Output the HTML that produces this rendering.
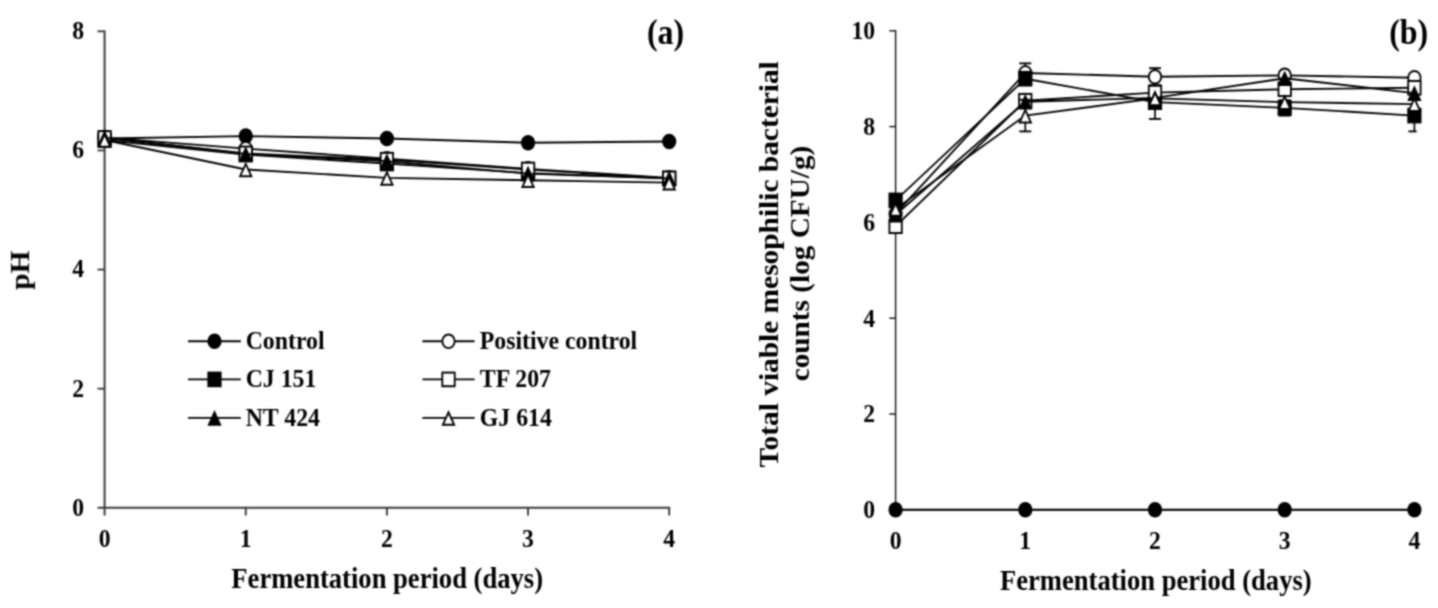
<!DOCTYPE html>
<html lang="en">
<head>
<meta charset="utf-8">
<title>Fermentation charts</title>
<style>
html,body{margin:0;padding:0;background:#fff;}
body{width:1438px;height:608px;overflow:hidden;}
svg{display:block;}
svg text{font-family:"Liberation Serif",serif;font-weight:bold;fill:#000;}
</style>
</head>
<body>
<svg width="1438" height="608" viewBox="0 0 1438 608">
<rect width="1438" height="608" fill="#fff"/>
<defs><filter id="soft" color-interpolation-filters="sRGB" x="0" y="0" width="1438" height="608" filterUnits="userSpaceOnUse"><feConvolveMatrix order="5" kernelMatrix="0.00037 0.00430 0.00978 0.00430 0.00037 0.00430 0.05062 0.11515 0.05062 0.00430 0.00978 0.11515 0.26192 0.11515 0.00978 0.00430 0.05062 0.11515 0.05062 0.00430 0.00037 0.00430 0.00978 0.00430 0.00037" divisor="1" edgeMode="duplicate" preserveAlpha="false"/></filter></defs>
<g filter="url(#soft)"><g transform="scale(1 1.1)">
<line x1="104.6" y1="27.82" x2="104.6" y2="468.64" stroke="#3a3a3a" stroke-width="2.0" stroke-linecap="butt"/>
<line x1="97.5" y1="461.64" x2="670.1" y2="461.64" stroke="#3a3a3a" stroke-width="1.8" stroke-linecap="butt"/>
<line x1="97.5" y1="353.35" x2="104.6" y2="353.35" stroke="#3a3a3a" stroke-width="1.7" stroke-linecap="butt"/>
<line x1="97.5" y1="245.05" x2="104.6" y2="245.05" stroke="#3a3a3a" stroke-width="1.7" stroke-linecap="butt"/>
<line x1="97.5" y1="136.76" x2="104.6" y2="136.76" stroke="#3a3a3a" stroke-width="1.7" stroke-linecap="butt"/>
<line x1="97.5" y1="28.47" x2="104.6" y2="28.47" stroke="#3a3a3a" stroke-width="1.7" stroke-linecap="butt"/>
<line x1="245.75" y1="461.64" x2="245.75" y2="468.64" stroke="#3a3a3a" stroke-width="1.9" stroke-linecap="butt"/>
<line x1="386.9" y1="461.64" x2="386.9" y2="468.64" stroke="#3a3a3a" stroke-width="1.9" stroke-linecap="butt"/>
<line x1="528.05" y1="461.64" x2="528.05" y2="468.64" stroke="#3a3a3a" stroke-width="1.9" stroke-linecap="butt"/>
<line x1="669.2" y1="461.64" x2="669.2" y2="468.64" stroke="#3a3a3a" stroke-width="1.9" stroke-linecap="butt"/>
<text x="84" y="469.27" font-size="23.7" text-anchor="end">0</text>
<text x="84" y="360.73" font-size="23.7" text-anchor="end">2</text>
<text x="84" y="252.18" font-size="23.7" text-anchor="end">4</text>
<text x="84" y="143.64" font-size="23.7" text-anchor="end">6</text>
<text x="84" y="35.09" font-size="23.7" text-anchor="end">8</text>
<text x="104.6" y="497.36" font-size="23.7" text-anchor="middle">0</text>
<text x="245.75" y="497.36" font-size="23.7" text-anchor="middle">1</text>
<text x="386.9" y="497.36" font-size="23.7" text-anchor="middle">2</text>
<text x="528.05" y="497.36" font-size="23.7" text-anchor="middle">3</text>
<text x="669.2" y="497.36" font-size="23.7" text-anchor="middle">4</text>
<text x="387.2" y="534.73" font-size="26.6" text-anchor="middle">Fermentation period (days)</text>
<text transform="translate(29 245.73) rotate(-90)" font-size="26.6" text-anchor="middle">pH</text>
<text x="665.6" y="39.64" font-size="32" text-anchor="middle">(a)</text>
<polyline points="104.6,125.93 245.75,123.77 386.9,125.93 528.05,129.72 669.2,128.64" fill="none" stroke="#000" stroke-width="1.7" stroke-linejoin="round"/>
<circle cx="104.6" cy="125.93" r="7.1" fill="#000"/>
<circle cx="245.75" cy="123.77" r="7.1" fill="#000"/>
<circle cx="386.9" cy="125.93" r="7.1" fill="#000"/>
<circle cx="528.05" cy="129.72" r="7.1" fill="#000"/>
<circle cx="669.2" cy="128.64" r="7.1" fill="#000"/>
<polyline points="104.6,125.12 245.75,135.14 386.9,144.34 528.05,153.55 669.2,161.67" fill="none" stroke="#000" stroke-width="1.7" stroke-linejoin="round"/>
<circle cx="104.6" cy="125.12" r="6.2" fill="#fff" stroke="#000" stroke-width="1.8"/>
<circle cx="245.75" cy="135.14" r="6.2" fill="#fff" stroke="#000" stroke-width="1.8"/>
<circle cx="386.9" cy="144.34" r="6.2" fill="#fff" stroke="#000" stroke-width="1.8"/>
<circle cx="528.05" cy="153.55" r="6.2" fill="#fff" stroke="#000" stroke-width="1.8"/>
<circle cx="669.2" cy="161.67" r="6.2" fill="#fff" stroke="#000" stroke-width="1.8"/>
<polyline points="104.6,127.29 245.75,140.55 386.9,148.68 528.05,157.34 669.2,162.21" fill="none" stroke="#000" stroke-width="1.7" stroke-linejoin="round"/>
<rect x="97.5" y="120.19" width="14.2" height="14.2" fill="#000"/>
<rect x="238.65" y="133.45" width="14.2" height="14.2" fill="#000"/>
<rect x="379.8" y="141.58" width="14.2" height="14.2" fill="#000"/>
<rect x="520.95" y="150.24" width="14.2" height="14.2" fill="#000"/>
<rect x="662.1" y="155.11" width="14.2" height="14.2" fill="#000"/>
<polyline points="104.6,125.39 245.75,139.47 386.9,145.16 528.05,154.09 669.2,162.21" fill="none" stroke="#000" stroke-width="1.7" stroke-linejoin="round"/>
<rect x="98.4" y="119.19" width="12.4" height="12.4" fill="#fff" stroke="#000" stroke-width="1.8"/>
<rect x="239.55" y="133.27" width="12.4" height="12.4" fill="#fff" stroke="#000" stroke-width="1.8"/>
<rect x="380.7" y="138.96" width="12.4" height="12.4" fill="#fff" stroke="#000" stroke-width="1.8"/>
<rect x="521.85" y="147.89" width="12.4" height="12.4" fill="#fff" stroke="#000" stroke-width="1.8"/>
<rect x="663" y="156.01" width="12.4" height="12.4" fill="#fff" stroke="#000" stroke-width="1.8"/>
<polyline points="104.6,125.12 245.75,140.01 386.9,146.51 528.05,157.88 669.2,162.21" fill="none" stroke="#000" stroke-width="1.7" stroke-linejoin="round"/>
<polygon points="104.6,118.02 111.7,132.22 97.5,132.22" fill="#000"/>
<polygon points="245.75,132.91 252.85,147.11 238.65,147.11" fill="#000"/>
<polygon points="386.9,139.41 394,153.61 379.8,153.61" fill="#000"/>
<polygon points="528.05,150.78 535.15,164.98 520.95,164.98" fill="#000"/>
<polygon points="669.2,155.11 676.3,169.31 662.1,169.31" fill="#000"/>
<polyline points="104.6,127.29 245.75,154.09 386.9,161.67 528.05,163.84 669.2,166" fill="none" stroke="#000" stroke-width="1.7" stroke-linejoin="round"/>
<polygon points="104.6,122.17 110.26,133.49 98.94,133.49" fill="#fff" stroke="#000" stroke-width="1.8" stroke-linejoin="miter"/>
<polygon points="245.75,148.97 251.41,160.29 240.09,160.29" fill="#fff" stroke="#000" stroke-width="1.8" stroke-linejoin="miter"/>
<polygon points="386.9,156.55 392.56,167.87 381.24,167.87" fill="#fff" stroke="#000" stroke-width="1.8" stroke-linejoin="miter"/>
<polygon points="528.05,158.72 533.71,170.04 522.39,170.04" fill="#fff" stroke="#000" stroke-width="1.8" stroke-linejoin="miter"/>
<polygon points="669.2,160.88 674.86,172.2 663.54,172.2" fill="#fff" stroke="#000" stroke-width="1.8" stroke-linejoin="miter"/>
<line x1="188" y1="310.27" x2="240.8" y2="310.27" stroke="#000" stroke-width="1.7" stroke-linecap="butt"/>
<circle cx="214.5" cy="310.27" r="7.1" fill="#000"/>
<text x="245.7" y="317.55" font-size="23.8" text-anchor="start">Control</text>
<line x1="422.4" y1="310.27" x2="474.6" y2="310.27" stroke="#000" stroke-width="1.7" stroke-linecap="butt"/>
<circle cx="448.5" cy="310.27" r="6.2" fill="#fff" stroke="#000" stroke-width="1.8"/>
<text x="479.8" y="317.55" font-size="23.8" text-anchor="start">Positive control</text>
<line x1="188" y1="344.91" x2="240.8" y2="344.91" stroke="#000" stroke-width="1.7" stroke-linecap="butt"/>
<rect x="207.4" y="337.81" width="14.2" height="14.2" fill="#000"/>
<text x="245.7" y="352.18" font-size="23.8" text-anchor="start">CJ 151</text>
<line x1="422.4" y1="344.91" x2="474.6" y2="344.91" stroke="#000" stroke-width="1.7" stroke-linecap="butt"/>
<rect x="442.3" y="338.71" width="12.4" height="12.4" fill="#fff" stroke="#000" stroke-width="1.8"/>
<text x="479.8" y="352.18" font-size="23.8" text-anchor="start">TF 207</text>
<line x1="188" y1="379.91" x2="240.8" y2="379.91" stroke="#000" stroke-width="1.7" stroke-linecap="butt"/>
<polygon points="214.5,372.81 221.6,387.01 207.4,387.01" fill="#000"/>
<text x="245.7" y="387.18" font-size="23.8" text-anchor="start">NT 424</text>
<line x1="422.4" y1="379.91" x2="474.6" y2="379.91" stroke="#000" stroke-width="1.7" stroke-linecap="butt"/>
<polygon points="448.5,374.79 454.16,386.11 442.84,386.11" fill="#fff" stroke="#000" stroke-width="1.8" stroke-linejoin="miter"/>
<text x="479.8" y="387.18" font-size="23.8" text-anchor="start">GJ 614</text>
<line x1="895.6" y1="27.18" x2="895.6" y2="463.45" stroke="#111" stroke-width="1.4" stroke-linecap="butt"/>
<line x1="895.6" y1="463.45" x2="1414.4" y2="463.45" stroke="#111" stroke-width="1.4" stroke-linecap="butt"/>
<line x1="889.3" y1="376.36" x2="895.6" y2="376.36" stroke="#111" stroke-width="1.3" stroke-linecap="butt"/>
<line x1="889.3" y1="289.27" x2="895.6" y2="289.27" stroke="#111" stroke-width="1.3" stroke-linecap="butt"/>
<line x1="889.3" y1="202.18" x2="895.6" y2="202.18" stroke="#111" stroke-width="1.3" stroke-linecap="butt"/>
<line x1="889.3" y1="115.09" x2="895.6" y2="115.09" stroke="#111" stroke-width="1.3" stroke-linecap="butt"/>
<line x1="889.3" y1="28" x2="895.6" y2="28" stroke="#111" stroke-width="1.3" stroke-linecap="butt"/>
<text x="875.2" y="471" font-size="23.7" text-anchor="end">0</text>
<text x="875.2" y="383.96" font-size="23.7" text-anchor="end">2</text>
<text x="875.2" y="296.93" font-size="23.7" text-anchor="end">4</text>
<text x="875.2" y="209.89" font-size="23.7" text-anchor="end">6</text>
<text x="875.2" y="122.85" font-size="23.7" text-anchor="end">8</text>
<text x="875.2" y="35.82" font-size="23.7" text-anchor="end">10</text>
<text x="895.6" y="499.09" font-size="23.7" text-anchor="middle">0</text>
<text x="1025.3" y="499.09" font-size="23.7" text-anchor="middle">1</text>
<text x="1155" y="499.09" font-size="23.7" text-anchor="middle">2</text>
<text x="1284.7" y="499.09" font-size="23.7" text-anchor="middle">3</text>
<text x="1414.4" y="499.09" font-size="23.7" text-anchor="middle">4</text>
<text x="1155.8" y="536.55" font-size="26.6" text-anchor="middle">Fermentation period (days)</text>
<text transform="translate(778.3 240.27) rotate(-90)" font-size="26.72" text-anchor="middle">Total viable mesophilic bacterial</text>
<text transform="translate(808.5 239.55) rotate(-90)" font-size="26.6" text-anchor="middle">counts (log CFU/g)</text>
<text x="1408.7" y="39.82" font-size="32" text-anchor="middle">(b)</text>
<polyline points="895.6,463.45 1025.3,463.45 1155,463.45 1284.7,463.45 1414.4,463.45" fill="none" stroke="#000" stroke-width="1.7" stroke-linejoin="round"/>
<circle cx="895.6" cy="463.45" r="7.1" fill="#000"/>
<circle cx="1025.3" cy="463.45" r="7.1" fill="#000"/>
<circle cx="1155" cy="463.45" r="7.1" fill="#000"/>
<circle cx="1284.7" cy="463.45" r="7.1" fill="#000"/>
<circle cx="1414.4" cy="463.45" r="7.1" fill="#000"/>
<line x1="1025.3" y1="75.03" x2="1025.3" y2="57.61" stroke="#000" stroke-width="1.7" stroke-linecap="butt"/>
<line x1="1019.3" y1="75.03" x2="1031.3" y2="75.03" stroke="#000" stroke-width="1.7" stroke-linecap="butt"/>
<line x1="1019.3" y1="57.61" x2="1031.3" y2="57.61" stroke="#000" stroke-width="1.7" stroke-linecap="butt"/>
<line x1="1155" y1="77.64" x2="1155" y2="61.97" stroke="#000" stroke-width="1.7" stroke-linecap="butt"/>
<line x1="1149" y1="77.64" x2="1161" y2="77.64" stroke="#000" stroke-width="1.7" stroke-linecap="butt"/>
<line x1="1149" y1="61.97" x2="1161" y2="61.97" stroke="#000" stroke-width="1.7" stroke-linecap="butt"/>
<polyline points="895.6,194.34 1025.3,66.32 1155,69.8 1284.7,68.5 1414.4,70.67" fill="none" stroke="#000" stroke-width="1.7" stroke-linejoin="round"/>
<circle cx="895.6" cy="194.34" r="6.2" fill="#fff" stroke="#000" stroke-width="1.8"/>
<circle cx="1025.3" cy="66.32" r="6.2" fill="#fff" stroke="#000" stroke-width="1.8"/>
<circle cx="1155" cy="69.8" r="6.2" fill="#fff" stroke="#000" stroke-width="1.8"/>
<circle cx="1284.7" cy="68.5" r="6.2" fill="#fff" stroke="#000" stroke-width="1.8"/>
<circle cx="1414.4" cy="70.67" r="6.2" fill="#fff" stroke="#000" stroke-width="1.8"/>
<line x1="1155" y1="108.12" x2="1155" y2="77.64" stroke="#000" stroke-width="1.7" stroke-linecap="butt"/>
<line x1="1149" y1="108.12" x2="1161" y2="108.12" stroke="#000" stroke-width="1.7" stroke-linecap="butt"/>
<line x1="1149" y1="77.64" x2="1161" y2="77.64" stroke="#000" stroke-width="1.7" stroke-linecap="butt"/>
<line x1="1284.7" y1="105.08" x2="1284.7" y2="91.14" stroke="#000" stroke-width="1.7" stroke-linecap="butt"/>
<line x1="1278.7" y1="105.08" x2="1290.7" y2="105.08" stroke="#000" stroke-width="1.7" stroke-linecap="butt"/>
<line x1="1278.7" y1="91.14" x2="1290.7" y2="91.14" stroke="#000" stroke-width="1.7" stroke-linecap="butt"/>
<line x1="1414.4" y1="119.45" x2="1414.4" y2="90.71" stroke="#000" stroke-width="1.7" stroke-linecap="butt"/>
<line x1="1408.4" y1="119.45" x2="1416.6" y2="119.45" stroke="#000" stroke-width="1.7" stroke-linecap="butt"/>
<line x1="1408.4" y1="90.71" x2="1416.6" y2="90.71" stroke="#000" stroke-width="1.7" stroke-linecap="butt"/>
<polyline points="895.6,182.15 1025.3,71.55 1155,92.88 1284.7,98.11 1414.4,105.08" fill="none" stroke="#000" stroke-width="1.7" stroke-linejoin="round"/>
<rect x="888.5" y="175.05" width="14.2" height="14.2" fill="#000"/>
<rect x="1018.2" y="64.45" width="14.2" height="14.2" fill="#000"/>
<rect x="1147.9" y="85.78" width="14.2" height="14.2" fill="#000"/>
<rect x="1277.6" y="91.01" width="14.2" height="14.2" fill="#000"/>
<rect x="1407.3" y="97.98" width="14.2" height="14.2" fill="#000"/>
<polyline points="895.6,205.67 1025.3,91.58 1155,84.17 1284.7,81.13 1414.4,79.82" fill="none" stroke="#000" stroke-width="1.7" stroke-linejoin="round"/>
<rect x="889.4" y="199.47" width="12.4" height="12.4" fill="#fff" stroke="#000" stroke-width="1.8"/>
<rect x="1019.1" y="85.38" width="12.4" height="12.4" fill="#fff" stroke="#000" stroke-width="1.8"/>
<rect x="1148.8" y="77.97" width="12.4" height="12.4" fill="#fff" stroke="#000" stroke-width="1.8"/>
<rect x="1278.5" y="74.93" width="12.4" height="12.4" fill="#fff" stroke="#000" stroke-width="1.8"/>
<rect x="1408.2" y="73.62" width="12.4" height="12.4" fill="#fff" stroke="#000" stroke-width="1.8"/>
<polyline points="895.6,195.21 1025.3,92.45 1155,88.96 1284.7,71.11 1414.4,84.61" fill="none" stroke="#000" stroke-width="1.7" stroke-linejoin="round"/>
<polygon points="895.6,188.11 902.7,202.31 888.5,202.31" fill="#000"/>
<polygon points="1025.3,85.35 1032.4,99.55 1018.2,99.55" fill="#000"/>
<polygon points="1155,81.86 1162.1,96.06 1147.9,96.06" fill="#000"/>
<polygon points="1284.7,64.01 1291.8,78.21 1277.6,78.21" fill="#000"/>
<polygon points="1414.4,77.51 1421.5,91.71 1407.3,91.71" fill="#000"/>
<line x1="1025.3" y1="119.45" x2="1025.3" y2="90.71" stroke="#000" stroke-width="1.7" stroke-linecap="butt"/>
<line x1="1019.3" y1="119.45" x2="1031.3" y2="119.45" stroke="#000" stroke-width="1.7" stroke-linecap="butt"/>
<line x1="1019.3" y1="90.71" x2="1031.3" y2="90.71" stroke="#000" stroke-width="1.7" stroke-linecap="butt"/>
<polyline points="895.6,189.99 1025.3,105.08 1155,89.4 1284.7,92.88 1414.4,94.62" fill="none" stroke="#000" stroke-width="1.7" stroke-linejoin="round"/>
<polygon points="895.6,184.87 901.26,196.19 889.94,196.19" fill="#fff" stroke="#000" stroke-width="1.8" stroke-linejoin="miter"/>
<polygon points="1025.3,99.96 1030.96,111.28 1019.64,111.28" fill="#fff" stroke="#000" stroke-width="1.8" stroke-linejoin="miter"/>
<polygon points="1155,84.28 1160.66,95.6 1149.34,95.6" fill="#fff" stroke="#000" stroke-width="1.8" stroke-linejoin="miter"/>
<polygon points="1284.7,87.76 1290.36,99.08 1279.04,99.08" fill="#fff" stroke="#000" stroke-width="1.8" stroke-linejoin="miter"/>
<polygon points="1414.4,89.5 1420.06,100.82 1408.74,100.82" fill="#fff" stroke="#000" stroke-width="1.8" stroke-linejoin="miter"/>
</g></g>
</svg>
</body>
</html>
